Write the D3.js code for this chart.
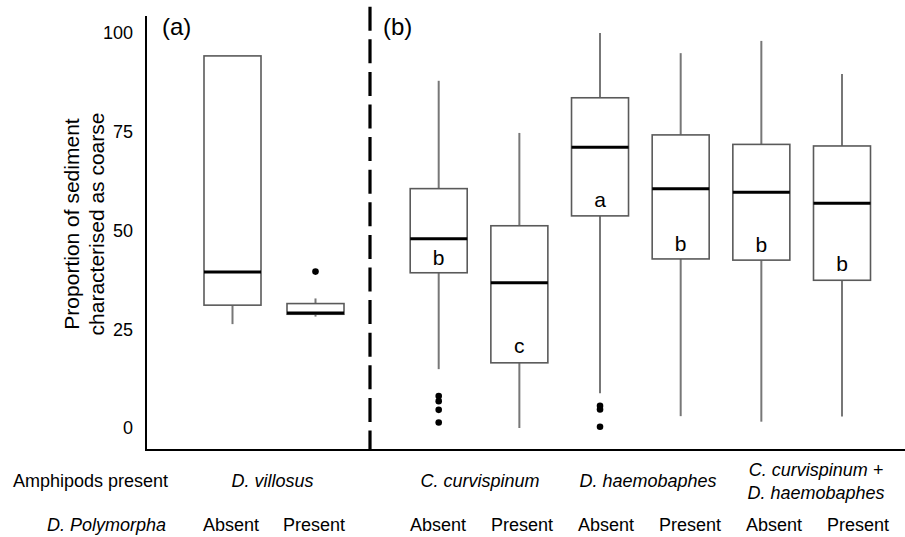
<!DOCTYPE html>
<html>
<head>
<meta charset="utf-8">
<style>
body { margin: 0; background: #fff; }
svg text { font-family: "Liberation Sans", Arial, sans-serif; fill: #000; }
.tick text { font-size: 18px; }
.row { font-size: 18px; }
.it { font-style: italic; }
.letter { font-size: 21px; text-anchor: middle; }
.panel { font-size: 24px; }
</style>
</head>
<body>
<svg id="chart" width="905" height="537"></svg>
<script src="https://cdn.jsdelivr.net/npm/d3@7"></script>
<script>
// box summaries (percent coarse sediment)
var groups = ["vil-Absent", "vil-Present", "cur-Absent", "cur-Present",
              "hae-Absent", "hae-Present", "both-Absent", "both-Present"];
var whiskerLow  = [26.3, 28.2, 14.9, 0.0, 8.8, 3.0, 1.6, 2.9];
var q1          = [31.1, 28.8, 39.3, 16.5, 53.7, 42.8, 42.5, 37.4];
var median      = [39.5, 29.1, 47.9, 36.8, 71.1, 60.6, 59.7, 56.9];
var q3          = [94.2, 31.5, 60.6, 51.2, 83.6, 74.2, 71.8, 71.4];
var whiskerHigh = [94.2, 32.8, 87.9, 74.7, 100, 94.9, 98.0, 89.6];
var outliers    = [[], [39.6], [8.1, 6.8, 4.6, 1.4], [], [5.6, 4.7, 0.3], [], [], []];
var letters     = ["", "", "b", "c", "a", "b", "b", "b"];
var letterAt    = [null, null, 41.3, 18.9, 56.0, 44.9, 44.6, 39.8];

var amphipods = [["D. villosus"], ["C. curvispinum"], ["D. haemobaphes"],
                 ["C. curvispinum +", "D. haemobaphes"]];
var polymorpha = ["Absent", "Present"];
var yTicks = [0, 25, 50, 75, 100];

var svg = d3.select("#chart");

var y = d3.scaleLinear().domain([0, 100]).range([428, 33]);

// panel (a) has two boxes, panel (b) six
var xA = d3.scalePoint().domain(groups.slice(0, 2)).range([232.5, 315.5]);
var xB = d3.scalePoint().domain(groups.slice(2)).range([438.7, 842]);
function x(g, i) { return i < 2 ? xA(g) : xB(g); }
var boxW = 57;

// label table below the chart sits on its own spacing
var labA = d3.scalePoint().domain(groups.slice(0, 2)).range([231, 314]);
var labB = d3.scalePoint().domain(groups.slice(2)).range([438, 858]);
function lx(g, i) { return i < 2 ? labA(g) : labB(g); }

// axes
svg.append("line")
    .attr("x1", 146).attr("x2", 146).attr("y1", 16).attr("y2", 451)
    .attr("stroke", "#000").attr("stroke-width", 2);
svg.append("line")
    .attr("x1", 145).attr("x2", 905).attr("y1", 450).attr("y2", 450)
    .attr("stroke", "#000").attr("stroke-width", 2);

var yAxis = svg.append("g")
    .attr("transform", "translate(146,0)")
    .call(d3.axisLeft(y).tickValues(yTicks).tickSize(0).tickPadding(13));
yAxis.select(".domain").remove();

// panel divider
svg.append("line")
    .attr("x1", 370).attr("x2", 370).attr("y1", 6.7).attr("y2", 450)
    .attr("stroke", "#000").attr("stroke-width", 3.2)
    .attr("stroke-dasharray", "24,8.6");

svg.append("text").attr("class", "panel").attr("x", 162).attr("y", 35).text("(a)");
svg.append("text").attr("class", "panel").attr("x", 383).attr("y", 35).text("(b)");

// y title
var yt = svg.append("text")
    .attr("transform", "translate(79,224) rotate(-90)")
    .attr("text-anchor", "middle")
    .style("font-size", "21px");
yt.append("tspan").attr("x", 0).attr("dy", 0).text("Proportion of sediment");
yt.append("tspan").attr("x", 0).attr("dy", 25).text("characterised as coarse");

// boxes
var box = svg.selectAll(".box")
    .data(groups)
    .enter().append("g")
    .attr("class", "box");

box.append("line")
    .attr("x1", function(d, i) { return x(d, i); })
    .attr("x2", function(d, i) { return x(d, i); })
    .attr("y1", function(d, i) { return y(whiskerLow[i]); })
    .attr("y2", function(d, i) { return y(q1[i]); })
    .attr("stroke", "#777").attr("stroke-width", 2);

box.append("line")
    .attr("x1", function(d, i) { return x(d, i); })
    .attr("x2", function(d, i) { return x(d, i); })
    .attr("y1", function(d, i) { return y(q3[i]); })
    .attr("y2", function(d, i) { return y(whiskerHigh[i]); })
    .attr("stroke", "#777").attr("stroke-width", 2);

box.append("rect")
    .attr("x", function(d, i) { return x(d, i) - boxW / 2; })
    .attr("width", boxW)
    .attr("y", function(d, i) { return y(q3[i]); })
    .attr("height", function(d, i) { return y(q1[i]) - y(q3[i]); })
    .attr("fill", "#fff")
    .attr("stroke", "#5a5a5a").attr("stroke-width", 1.6);

box.append("line")
    .attr("x1", function(d, i) { return x(d, i) - boxW / 2; })
    .attr("x2", function(d, i) { return x(d, i) + boxW / 2; })
    .attr("y1", function(d, i) { return y(median[i]); })
    .attr("y2", function(d, i) { return y(median[i]); })
    .attr("stroke", "#000").attr("stroke-width", 3);

box.selectAll("circle")
    .data(function(d, i) { return outliers[i].map(function(v) { return {v: v, cx: x(d, i)}; }); })
    .enter().append("circle")
    .attr("cx", function(o) { return o.cx; })
    .attr("cy", function(o) { return y(o.v); })
    .attr("r", 3.3)
    .attr("fill", "#000");

box.filter(function(d, i) { return letters[i] !== ""; })
    .append("text")
    .attr("class", "letter")
    .attr("x", function(d) { var i = groups.indexOf(d); return x(d, i); })
    .attr("y", function(d) { var i = groups.indexOf(d); return y(letterAt[i]); })
    .text(function(d) { return letters[groups.indexOf(d)]; });

// label table
svg.append("text").attr("class", "row").attr("x", 13).attr("y", 487).text("Amphipods present");
svg.append("text").attr("class", "row it").attr("x", 166).attr("y", 531)
    .attr("text-anchor", "end").text("D. Polymorpha");

amphipods.forEach(function(lines, k) {
  var a = groups[k * 2], b = groups[k * 2 + 1];
  var cx = (lx(a, k * 2) + lx(b, k * 2 + 1)) / 2;
  var base = lines.length > 1 ? 475.5 : 487;
  lines.forEach(function(s, j) {
    svg.append("text").attr("class", "row it")
        .attr("text-anchor", "middle")
        .attr("x", cx).attr("y", base + j * 23.5)
        .text(s);
  });
});

svg.selectAll(".pm")
    .data(groups)
    .enter().append("text")
    .attr("class", "row pm")
    .attr("text-anchor", "middle")
    .attr("x", function(d, i) { return lx(d, i); })
    .attr("y", 531)
    .text(function(d, i) { return polymorpha[i % 2]; });
</script>
</body>
</html>
